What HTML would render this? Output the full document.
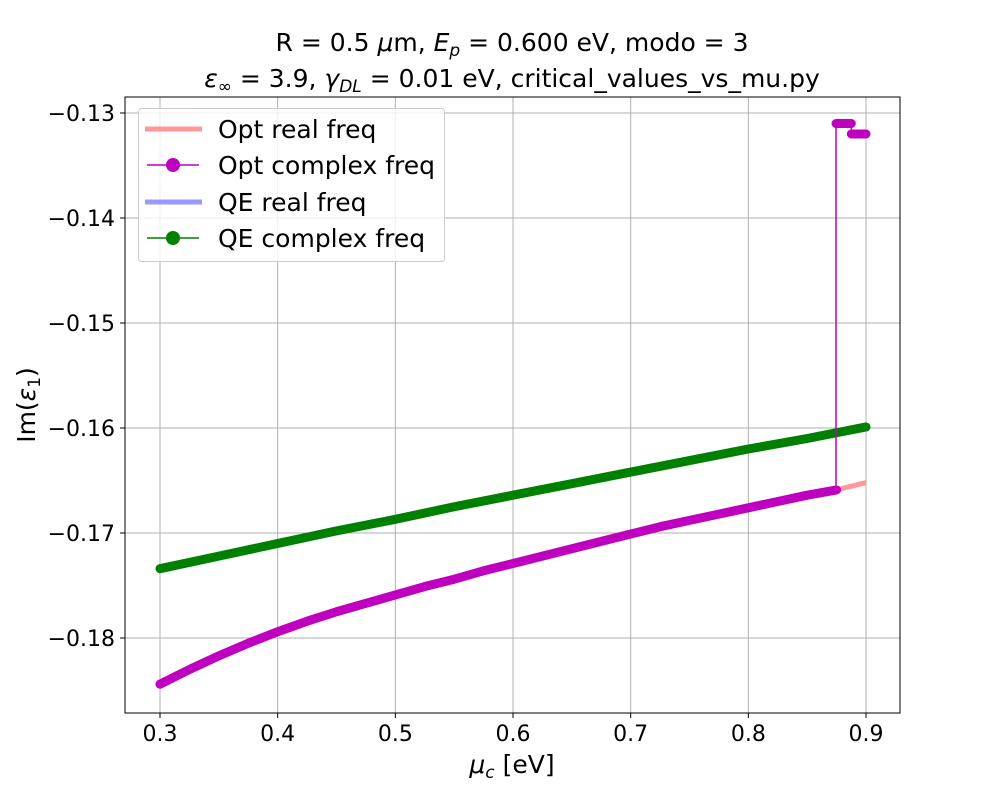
<!DOCTYPE html>
<html><head><meta charset="utf-8"><style>
body{margin:0;background:#fff}
svg{display:block;font-family:"DejaVu Sans","Liberation Sans",sans-serif}
</style></head><body>
<svg id="chart" width="1000" height="800">
<text x="512" y="51" font-size="25" text-anchor="middle">R = 0.5 <tspan font-style="italic">μ</tspan>m, <tspan font-style="italic">E</tspan><tspan font-size="17" dy="5" font-style="italic">p</tspan><tspan dy="-5"> = 0.600 eV, modo = 3</tspan></text>
<text x="512" y="87" font-size="25" text-anchor="middle"><tspan font-style="italic">ε</tspan><tspan font-size="17" dy="5">∞</tspan><tspan dy="-5"> = 3.9, </tspan><tspan font-style="italic">γ</tspan><tspan font-size="17" dy="5" font-style="italic">DL</tspan><tspan dy="-5"> = 0.01 eV, critical_values_vs_mu.py</tspan></text>
<g id="grid"></g>
<g id="marks"></g>
<rect x="125" y="97" width="775" height="616" fill="none" stroke="#000" stroke-width="1"/>
<g id="ticks"></g>
<text x="512" y="773" font-size="25" text-anchor="middle"><tspan font-style="italic">μ</tspan><tspan font-size="17" dy="5" font-style="italic">c</tspan><tspan dy="-5"> [eV]</tspan></text>
<text transform="translate(35,405) rotate(-90)" font-size="25" text-anchor="middle">Im(<tspan font-style="italic">ε</tspan><tspan font-size="17" dy="5">1</tspan><tspan dy="-5">)</tspan></text>
<g>
<rect x="138.5" y="108.5" width="306" height="153" rx="3" fill="#fff" fill-opacity="0.8" stroke="#ccc"/>
<line x1="145" y1="129" x2="202" y2="129" stroke="#ff9999" stroke-width="5"/>
<text x="218" y="138" font-size="25">Opt real freq</text>
<line x1="147" y1="165" x2="199" y2="165" stroke="#bf00bf" stroke-width="1.5"/>
<circle cx="173" cy="165" r="7" fill="#bf00bf"/>
<text x="218" y="174" font-size="25">Opt complex freq</text>
<line x1="145" y1="202" x2="202" y2="202" stroke="#9999ff" stroke-width="5"/>
<text x="218" y="211" font-size="25">QE real freq</text>
<line x1="147" y1="238" x2="199" y2="238" stroke="#008000" stroke-width="1.5"/>
<circle cx="173" cy="238" r="7" fill="#008000"/>
<text x="218" y="247" font-size="25">QE complex freq</text>
</g>
</svg>
<script>
const muOpt=[0.3,0.325,0.35,0.375,0.4,0.425,0.45,0.475,0.5,0.525,0.55,0.575,0.6,0.625,0.65,0.675,0.7,0.725,0.75,0.775,0.8,0.825,0.85,0.875];
const optComplex=[-0.1844,-0.1830,-0.1817,-0.1805,-0.1794,-0.1784,-0.1775,-0.1767,-0.1759,-0.1751,-0.1744,-0.1736,-0.1729,-0.1722,-0.1715,-0.1708,-0.1701,-0.1694,-0.1688,-0.1682,-0.1676,-0.1670,-0.1664,-0.1659];
const muOptReal=[0.3,0.4,0.5,0.6,0.7,0.8,0.875,0.9];
const optReal=[-0.1844,-0.1794,-0.1759,-0.1729,-0.1701,-0.1676,-0.1659,-0.1652];
const muJump=[0.8745,0.8745,0.88,0.8875,0.8875,0.89,0.895,0.9];
const optJump=[-0.1659,-0.131,-0.131,-0.131,-0.132,-0.132,-0.132,-0.132];
const muQE=[0.3,0.35,0.4,0.45,0.5,0.55,0.6,0.65,0.7,0.75,0.8,0.85,0.9];
const qeComplex=[-0.1734,-0.1722,-0.1710,-0.1698,-0.1687,-0.1675,-0.1664,-0.1653,-0.1642,-0.1631,-0.1620,-0.1610,-0.1599];
const qeReal=qeComplex.slice();
const xTicks=[0.3,0.4,0.5,0.6,0.7,0.8,0.9];
const yTicks=[-0.13,-0.14,-0.15,-0.16,-0.17,-0.18];
const NS="http://www.w3.org/2000/svg";
const xs=v=>160+(v-0.3)*1176.7;
const ys=v=>113+(-0.13-v)*10500;
function mk(t,a,p){const e=document.createElementNS(NS,t);for(const k in a)e.setAttribute(k,a[k]);p.appendChild(e);return e;}
const grid=document.getElementById('grid'),ticks=document.getElementById('ticks'),marks=document.getElementById('marks');
xTicks.forEach(t=>{const x=xs(t);
 const g=mk('line',{x1:x,x2:x,y1:97,y2:713,stroke:'#b0b0b0','stroke-width':1},grid);
 
 
 mk('line',{x1:x,x2:x,y1:713,y2:718,stroke:'#000'},ticks);
 const l=mk('text',{x:x,y:741,'font-size':22,'text-anchor':'middle'},ticks);l.textContent=t.toFixed(1);
 
 });
yTicks.forEach(t=>{const y=ys(t);
 const g=mk('line',{x1:125,x2:900,y1:y,y2:y,stroke:'#b0b0b0','stroke-width':1},grid);
 
 
 mk('line',{x1:120,x2:125,y1:y,y2:y,stroke:'#000'},ticks);
 const l=mk('text',{x:115,y:y+8,'font-size':22,'text-anchor':'end'},ticks);l.textContent='−'+Math.abs(t).toFixed(2);
 
 });
function pts(xa,ya){return xa.map((v,i)=>xs(v)+','+ys(ya[i])).join(' ');}
const r1=mk('polyline',{points:pts(muOptReal,optReal),fill:'none',stroke:'#ff9999','stroke-width':5},marks);


const r2=mk('polyline',{points:pts(muQE,qeReal),fill:'none',stroke:'#9999ff','stroke-width':5},marks);


const q=mk('polyline',{points:pts(muQE,qeComplex),fill:'none',stroke:'#008000','stroke-width':9,'stroke-linecap':'round','stroke-linejoin':'round'},marks);


const o=mk('polyline',{points:pts(muOpt,optComplex),fill:'none',stroke:'#bf00bf','stroke-width':9,'stroke-linecap':'round','stroke-linejoin':'round'},marks);


const j=mk('polyline',{points:pts(muJump,optJump),fill:'none',stroke:'#bf00bf','stroke-width':1.5},marks);


for(let i=2;i<muJump.length;i++){if(i===4)continue;
 const s=mk('line',{x1:xs(muJump[i-1]),y1:ys(optJump[i-1]),x2:xs(muJump[i]),y2:ys(optJump[i]),stroke:'#bf00bf','stroke-width':9,'stroke-linecap':'round'},marks);
 
 }
</script>
</body></html>
